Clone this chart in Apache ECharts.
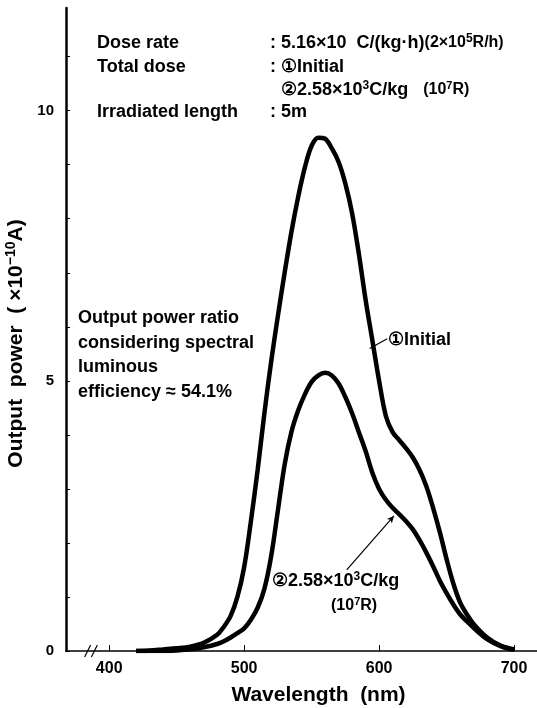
<!DOCTYPE html>
<html>
<head>
<meta charset="utf-8">
<script src="https://cdn.jsdelivr.net/npm/echarts@6/dist/echarts.min.js"></script>
<style>
html,body{margin:0;padding:0;background:#fff;}
#c{width:537px;height:708px;}
</style>
</head>
<body>
<div id="c"></div>
<script>
// Data
const wavelengths = [420,430,440,450,460,470,480,485,490,495,500,505,510,515,520,525,530,535,540,545,550,555,560,565,570,575,580,585,590,595,600,605,610,615,620,625,630,635,640,645,650,655,660,665,670,680,690,700];
const initial =     [0.00,0.01,0.03,0.05,0.08,0.15,0.30,0.45,0.65,1.00,1.55,2.40,3.35,4.40,5.35,6.20,7.00,7.75,8.40,8.95,9.35,9.50,9.48,9.30,9.05,8.65,8.10,7.35,6.50,5.75,5.00,4.35,4.05,3.90,3.75,3.58,3.35,3.05,2.65,2.20,1.70,1.25,0.90,0.68,0.50,0.25,0.10,0.03];
const irradiated =  [0.00,0.00,0.00,0.01,0.03,0.07,0.13,0.18,0.25,0.33,0.42,0.58,0.80,1.15,1.75,2.60,3.45,4.05,4.45,4.75,4.98,5.10,5.15,5.10,4.95,4.70,4.40,4.05,3.70,3.30,3.00,2.80,2.65,2.53,2.40,2.25,2.05,1.82,1.57,1.30,1.07,0.86,0.68,0.55,0.43,0.22,0.09,0.02];
const xLabels = [400,500,600,700];
const yLabels = [0,5,10];
const yTicks = [0,1,2,3,4,5,6,7,8,9,10,11];
const leader1 = [[593,5.6],[606,5.78]];
const leader2 = [[576,1.5],[611,2.5]];

const FONT = 'Liberation Sans';
const rich = {
  a:{fontFamily:FONT,fontWeight:'bold',fontSize:18,lineHeight:20,color:'#000'},
  b:{fontFamily:FONT,fontWeight:'bold',fontSize:21,lineHeight:24,color:'#000'},
  s:{fontFamily:FONT,fontWeight:'bold',fontSize:14,lineHeight:20,color:'#000'},
  m:{fontFamily:FONT,fontWeight:'bold',fontSize:16,lineHeight:20,color:'#000'},
  sup:{fontFamily:FONT,fontWeight:'bold',fontSize:12,lineHeight:10,verticalAlign:'top',color:'#000'},
  ssup:{fontFamily:FONT,fontWeight:'bold',fontSize:11,lineHeight:12,verticalAlign:'top',color:'#000'},
  bsup:{fontFamily:FONT,fontWeight:'bold',fontSize:14,lineHeight:12,verticalAlign:'top',color:'#000'}
};

const chart = echarts.init(document.getElementById('c'));
function pairs(ys){ return wavelengths.map((w,i)=>[w,ys[i]]); }

const option = {
  animation:false,
  backgroundColor:'#fff',
  grid:{left:66,right:0,top:8,bottom:57,containLabel:false,outerBoundsMode:'none'},
  xAxis:{
    type:'value',min:368,max:717,
    name:'{b|Wavelength  (nm)}',nameLocation:'middle',nameGap:32,
    nameTextStyle:{rich:rich,padding:[0,0,0,34]},
    axisLine:{lineStyle:{color:'#000',width:1.5}},
    axisTick:{show:true,inside:true,length:6,customValues:xLabels,lineStyle:{color:'#000',width:1}},
    axisLabel:{customValues:xLabels,margin:10,fontFamily:FONT,fontWeight:'bold',fontSize:16,color:'#000'},
    splitLine:{show:false}
  },
  yAxis:{
    type:'value',min:0,max:11.9,
    name:'{b|Output  power  ( ×10}{bsup|−10}{b|A)}',nameLocation:'middle',nameGap:31,nameRotate:90,
    nameTextStyle:{rich:rich,padding:[0,0,0,-28]},
    axisLine:{show:true,lineStyle:{color:'#000',width:2.5}},
    axisTick:{show:true,inside:true,length:4,customValues:yTicks,lineStyle:{color:'#000',width:1}},
    axisLabel:{customValues:yLabels,margin:12,fontFamily:FONT,fontWeight:'bold',fontSize:15,color:'#000'},
    splitLine:{show:false}
  },
  series:[
    {type:'line',name:'① Initial',data:pairs(initial),smooth:0.35,showSymbol:false,
     lineStyle:{color:'#000',width:4.5},
     markLine:{silent:true,symbol:['none','none'],label:{show:false},lineStyle:{color:'#000',width:1.2,type:'solid'},
       data:[[{coord:leader1[0]},{coord:leader1[1]}]]}},
    {type:'line',name:'② 2.58×10³C/kg',data:pairs(irradiated),smooth:0.35,showSymbol:false,
     lineStyle:{color:'#000',width:4.5},
     markLine:{silent:true,symbol:['none','arrow'],symbolSize:[5,7],label:{show:false},lineStyle:{color:'#000',width:1.2,type:'solid'},
       data:[[{coord:leader2[0]},{coord:leader2[1]}]]}}
  ]
};
chart.setOption(option);

function richTxt(x,y,text){
  return {type:'text',x:x,y:y,style:{text:text,rich:rich,fontFamily:FONT,fontWeight:'bold',fontSize:18,fill:'#000',verticalAlign:'middle'}};
}
const p1 = chart.convertToPixel({gridIndex:0},[384,0]);
const p2 = chart.convertToPixel({gridIndex:0},[389,0]);
const graphics = [
  richTxt(97,43,'{a|Dose rate}'),
  richTxt(270,43,'{a|: 5.16×10  C/(kg·h)}{m|(2×10}{sup|5}{m|R/h)}'),
  richTxt(97,67,'{a|Total dose}'),
  richTxt(270,67,'{a|: ①Initial}'),
  richTxt(281,90,'{a|②2.58×10}{sup|3}{a|C/kg   }{m|(10}{ssup|7}{m|R)}'),
  richTxt(97,112,'{a|Irradiated length}'),
  richTxt(270,112,'{a|: 5m}'),
  richTxt(78,318,'{a|Output power ratio}'),
  richTxt(78,343,'{a|considering spectral}'),
  richTxt(78,367,'{a|luminous}'),
  richTxt(78,392,'{a|efficiency ≈ 54.1%}'),
  richTxt(388,340,'{a|①Initial}'),
  richTxt(272,581,'{a|②2.58×10}{sup|3}{a|C/kg}'),
  richTxt(331,606,'{m|(10}{ssup|7}{m|R)}'),
  {type:'rect',shape:{x:p1[0]-1,y:p1[1]-2,width:p2[0]-p1[0]+2,height:4},style:{fill:'#fff'}},
  {type:'line',shape:{x1:p1[0]-3,y1:p1[1]+6,x2:p1[0]+3,y2:p1[1]-6},style:{stroke:'#000',lineWidth:1.2}},
  {type:'line',shape:{x1:p2[0]-3,y1:p2[1]+6,x2:p2[0]+3,y2:p2[1]-6},style:{stroke:'#000',lineWidth:1.2}}
];
chart.setOption({graphic:graphics});
</script>
</body>
</html>
